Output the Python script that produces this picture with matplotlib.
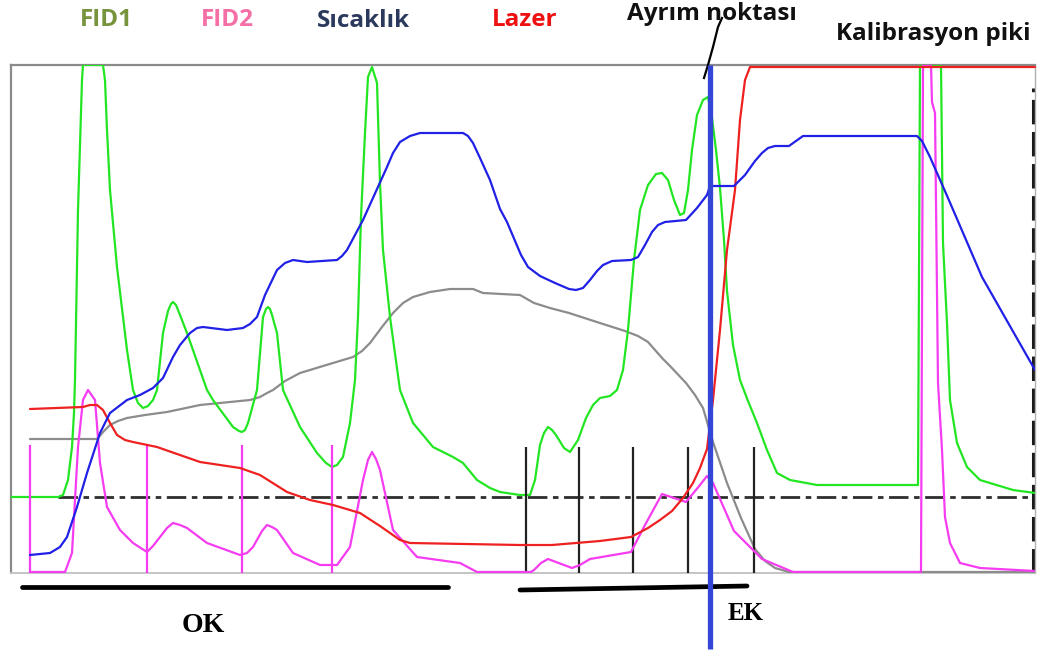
import matplotlib
matplotlib.use("Agg")
import matplotlib.pyplot as plt

# ---- thermogram data (time index, detector / sensor signal) ----
fid1_t = [11, 58, 63, 68, 72, 74, 75, 78, 82, 83, 103, 105, 107, 110, 117, 127, 133, 138, 143, 148,
          153, 157, 163, 168, 171, 173, 176, 180, 187, 207, 213, 233, 239, 242, 245, 248, 257, 263,
          266, 268, 270, 272, 277, 283, 300, 317, 326, 332, 337, 343, 350, 355, 358, 361, 365, 368,
          372, 377, 380, 383, 390, 400, 413, 433, 453, 463, 477, 490, 500, 520, 530, 535, 540, 544,
          548, 552, 556, 564, 570, 578, 586, 593, 600, 610, 617, 623, 628, 634, 640, 648, 656, 662,
          668, 674, 680, 684, 688, 692, 697, 703, 708, 712, 716, 720, 724, 727, 733, 740, 748, 757,
          767, 777, 790, 817, 918, 920, 941, 943, 947, 950, 957, 967, 980, 1013, 1035]
fid1_v = [76, 76, 78, 93, 126, 160, 193, 363, 493, 508, 508, 493, 443, 383, 306, 223, 183, 170, 165, 167,
          173, 183, 240, 262, 269, 271, 268, 258, 240, 183, 173, 146, 142, 141, 143, 150, 183, 256,
          264, 266, 264, 258, 240, 183, 146, 120, 110, 106, 108, 116, 150, 193, 256, 356, 440, 496,
          506, 490, 390, 323, 256, 183, 150, 126, 116, 110, 93, 85, 81, 78, 78, 93, 128, 140,
          146, 143, 138, 125, 121, 133, 155, 168, 175, 177, 183, 203, 243, 313, 363, 388, 399, 400,
          393, 373, 358, 360, 383, 423, 458, 473, 476, 455, 423, 385, 333, 282, 228, 193, 172, 150,
          123, 100, 93, 88, 88, 508, 508, 330, 250, 173, 130, 106, 93, 83, 80]

fid2_t = [30, 65, 72, 78, 83, 88, 95, 100, 107, 120, 133, 147, 153, 160, 167, 173, 180, 187, 207, 240,
          247, 253, 262, 267, 272, 277, 293, 320, 337, 350, 363, 368, 372, 376, 380, 393, 417, 460,
          477, 531, 534, 541, 548, 556, 572, 580, 590, 631, 645, 662, 674, 686, 700, 707, 713, 734,
          762, 793, 921, 923, 931, 932, 935, 938, 942, 945, 950, 960, 980, 1035]
fid2_v = [1, 1, 20, 126, 173, 183, 173, 110, 66, 43, 30, 21, 27, 36, 45, 50, 48, 45, 30, 18,
          20, 26, 42, 48, 46, 43, 20, 8, 8, 26, 93, 113, 121, 114, 103, 43, 16, 10,
          1, 1, 3, 10, 14, 11, 5, 8, 14, 21, 48, 79, 75, 71, 88, 97, 90, 42,
          14, 1, 1, 508, 508, 471, 460, 190, 123, 56, 30, 10, 5, 2]

temp_t = [30, 50, 60, 67, 77, 87, 100, 110, 127, 140, 153, 163, 173, 180, 190, 197, 203, 227, 243, 250,
          257, 265, 277, 285, 293, 307, 337, 342, 347, 363, 387, 393, 400, 410, 420, 463, 468, 473,
          480, 490, 500, 507, 521, 528, 540, 555, 569, 576, 583, 590, 597, 603, 612, 631, 638, 645,
          652, 658, 665, 686, 697, 707, 710, 734, 745, 755, 762, 768, 775, 789, 796, 803, 917, 922,
          930, 948, 982, 1035]
temp_v = [18, 20, 26, 36, 66, 100, 140, 160, 173, 178, 185, 195, 216, 228, 240, 245, 246, 243, 245, 249,
          256, 278, 303, 310, 313, 311, 313, 317, 323, 353, 406, 420, 431, 437, 440, 440, 437, 430,
          415, 393, 364, 351, 318, 306, 297, 290, 284, 283, 285, 293, 302, 308, 312, 313, 316, 328,
          341, 348, 351, 353, 365, 378, 387, 387, 398, 412, 420, 425, 427, 427, 432, 437, 437, 432,
          416, 375, 296, 203]

trans_t = [30, 97, 104, 110, 118, 127, 145, 167, 200, 250, 260, 267, 273, 285, 300, 333, 353, 362, 370,
           382, 393, 403, 413, 430, 450, 473, 483, 520, 534, 550, 569, 603, 625, 638, 648, 655, 663,
           670, 686, 695, 703, 713, 727, 741, 755, 765, 775, 789, 800, 1035]
trans_v = [134, 134, 142, 148, 152, 155, 158, 161, 168, 173, 176, 180, 183, 192, 200, 210, 216, 222, 230,
           246, 260, 270, 276, 281, 284, 284, 280, 278, 270, 265, 260, 249, 242, 237, 231, 223, 214,
           207, 190, 178, 165, 131, 90, 55, 24, 12, 5, 1, 1, 1]

laser_t = [30, 83, 90, 97, 103, 110, 117, 125, 133, 157, 200, 240, 260, 287, 310, 333, 360, 380, 400,
           410, 520, 552, 600, 631, 648, 660, 672, 683, 693, 700, 707, 713, 720, 727, 735, 740, 745,
           750, 1035]
laser_v = [164, 166, 168, 168, 163, 150, 138, 133, 131, 126, 111, 105, 98, 81, 73, 68, 60, 47, 33,
           30, 28, 28, 32, 36, 45, 53, 62, 75, 90, 105, 124, 173, 243, 323, 383, 453, 493,
           506, 506]

# fraction boundaries
oc_marks = [30, 147, 242, 332]
ec_marks = [526, 579, 633, 688, 754]
mark_height = [128, 128, 128, 128]
ec_mark_height = [126, 126, 126, 126, 126]
split_time = 710
fid_baseline = 76

legend_labels = ["FID1", "FID2", "Sıcaklık", "Lazer"]
legend_colors = ["#77933c", "#f56fa6", "#2b3a5c", "#ee1111"]

W, H = 1040, 657
fig = plt.figure(figsize=(W / 100, H / 100), dpi=100)
ax = fig.add_axes([11 / W, (H - 573) / H, (1035 - 11) / W, (573 - 65) / H])
ax.set_xlim(11, 1035)
ax.set_ylim(0, 508)
ax.set_xticks([])
ax.set_yticks([])
for side in ("left", "top"):
    ax.spines[side].set_color("#8a8a8a")
    ax.spines[side].set_linewidth(1.6)
ax.spines["bottom"].set_color("#c4c4c4")
ax.spines["bottom"].set_linewidth(1.4)
ax.spines["right"].set_color("#b0b0b0")
ax.spines["right"].set_linewidth(1.0)

# FID baseline (dash-dot)
ax.plot([58, 1035], [fid_baseline, fid_baseline], color="#2e2e2e", lw=2.0,
        dashes=(7, 2, 2, 2), zorder=2)
# right dashed boundary
ax.plot([1033, 1033], [0, 485], color="#1a1a1a", lw=2.2, dashes=(8, 2.5), zorder=2,
        clip_on=False)

lw = 1.6
style = dict(lw=lw, solid_joinstyle="round", solid_capstyle="round")
ax.plot(trans_t, trans_v, color="#8c8c8c", zorder=3, **style)
ax.plot(fid1_t, fid1_v, color="#22e622", zorder=3, **style)
ax.plot(fid2_t, fid2_v, color="#f53cf0", zorder=4, **style)
ax.plot(laser_t, laser_v, color="#ee2020", zorder=4, clip_on=False, **style)
ax.plot(temp_t, temp_v, color="#2020e6", zorder=4, **style)

# fraction markers
ax.vlines(oc_marks, 0, mark_height, color="#f53cf0", lw=1.6, zorder=3)
ax.vlines(ec_marks, 0, ec_mark_height, color="#222222", lw=1.6, zorder=3)

# split point
ax.plot([split_time, split_time], [508, -76], color="#3346d6", lw=3.8, zorder=6,
        clip_on=False, solid_capstyle="butt")
ax.plot([722, 718, 713, 708, 704], [555, 546, 526, 508, 495], color="black", lw=1.6,
        zorder=5, clip_on=False)

# OC / EC range bars
ax.plot([22, 448], [-14, -14], color="black", lw=3.4, clip_on=False, solid_capstyle="round")
ax.plot([520, 747], [-17, -13], color="black", lw=3.4, clip_on=False, solid_capstyle="round")
ax.text(203, -52, "OK", ha="center", va="center", fontsize=20, fontweight="bold",
        family="Liberation Serif", clip_on=False)
ax.text(746, -40, "EK", ha="center", va="center", fontsize=18, fontweight="bold",
        family="Liberation Serif", clip_on=False)

# header labels
label_x = [106, 227, 363, 525]
label_y = [20, 20, 21, 20]
for lab, col, lx, ly in zip(legend_labels, legend_colors, label_x, label_y):
    fig.text(lx / W, 1 - ly / H, lab, color=col, ha="center", va="center",
             fontsize=17.5, fontweight="bold", family="Open Sans")
fig.text(712 / W, 1 - 14 / H, "Ayrım noktası", color="#111111", ha="center", va="center",
         fontsize=17.5, fontweight="bold", family="Open Sans")
fig.text(933 / W, 1 - 34 / H, "Kalibrasyon piki", color="#111111", ha="center", va="center",
         fontsize=17.5, fontweight="bold", family="Open Sans")

fig.savefig("out.png", dpi=100, facecolor="white")
